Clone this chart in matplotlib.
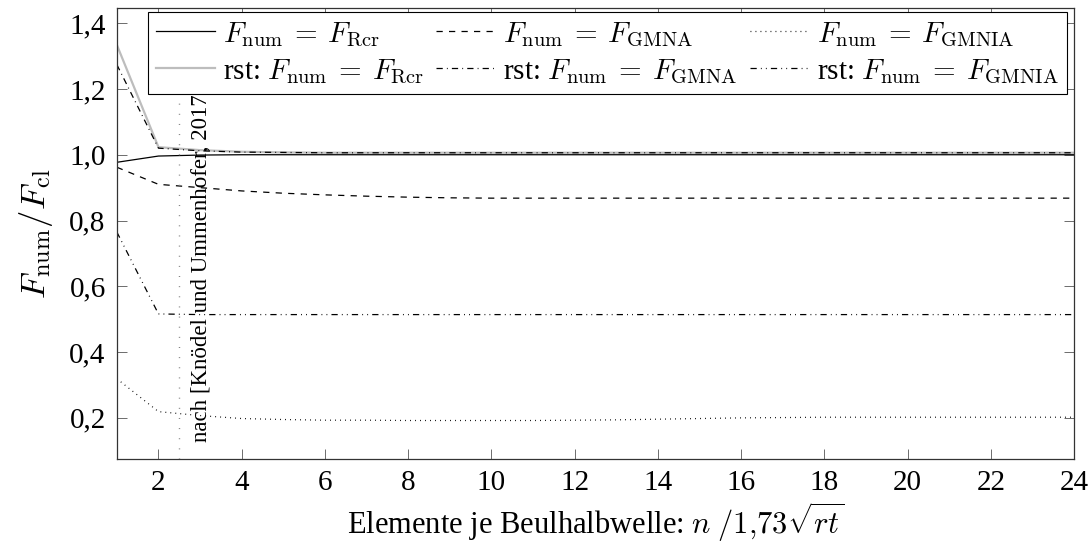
import matplotlib
matplotlib.use("Agg")
import matplotlib.pyplot as plt
from matplotlib.ticker import FuncFormatter

plt.rcParams["font.family"] = ["Liberation Serif", "DejaVu Serif"]
plt.rcParams["mathtext.fontset"] = "cm"
plt.rcParams["font.size"] = 20

# ---------------------------------------------------------------------------
# Data
# ---------------------------------------------------------------------------
n_elem = list(range(1, 25))

rcr = [0.977, 0.996, 0.999] + [1.0] * 21
gmna = [0.962, 0.910, 0.900, 0.890, 0.883, 0.878, 0.874, 0.871, 0.869] + [0.868] * 15
gmnia = [0.319, 0.219, 0.207, 0.198, 0.195, 0.193, 0.193, 0.192, 0.192, 0.192,
         0.192, 0.193, 0.194, 0.196, 0.198, 0.200, 0.201, 0.202, 0.202, 0.202,
         0.202, 0.202, 0.202, 0.202]
rst_rcr = [1.334, 1.023, 1.014, 1.009, 1.007, 1.006] + [1.006] * 18
rst_gmna = [1.274, 1.020, 1.012, 1.008, 1.007, 1.006] + [1.006] * 18
rst_gmnia = [0.765, 0.516] + [0.514] * 22

ref_x = 2.5
ref_text = "nach [Knödel und Ummenhofer, 2017]"

lab_rcr = r"$F_\mathrm{num}\:=\:F_\mathrm{Rcr}$"
lab_gmna = r"$F_\mathrm{num}\:=\:F_\mathrm{GMNA}$"
lab_gmnia = r"$F_\mathrm{num}\:=\:F_\mathrm{GMNIA}$"

# ---------------------------------------------------------------------------
# Figure
# ---------------------------------------------------------------------------
fig = plt.figure(figsize=(10.92, 5.54), dpi=100)
ax = fig.add_axes([0.107, 0.1715, 0.8765, 0.814])

lw = 0.9
h_rcr, = ax.plot(n_elem, rcr, color="black", lw=lw, label=lab_rcr)
h_gmna, = ax.plot(n_elem, gmna, color="black", lw=lw, dashes=(5, 5), label=lab_gmna)
h_gmnia, = ax.plot(n_elem, gmnia, color="black", lw=lw, dashes=(0.7, 3.3), label=lab_gmnia)
h_rrcr, = ax.plot(n_elem, rst_rcr, color="#bdbdbd", lw=1.6, label="rst: " + lab_rcr)
h_rgmna, = ax.plot(n_elem, rst_gmna, color="black", lw=lw,
                   dashes=(5, 3.3, 0.7, 3.3), label="rst: " + lab_gmna)
h_rgmnia, = ax.plot(n_elem, rst_gmnia, color="black", lw=lw,
                    dashes=(5, 3.3, 0.7, 3.3, 0.7, 3.3), label="rst: " + lab_gmnia)

ax.axvline(ref_x, color="gray", lw=1.0, dashes=(0.7, 6.6))
ax.text(3.03, 0.128, ref_text, rotation=90, ha="center", va="bottom", fontsize=16.5)

ax.set_xlim(1, 24)
ax.set_ylim(0.075, 1.446)
ax.set_xticks(range(2, 25, 2))
ax.set_yticks([0.2, 0.4, 0.6, 0.8, 1.0, 1.2, 1.4])
ax.yaxis.set_major_formatter(FuncFormatter(lambda v, p: f"{v:.1f}".replace(".", ",")))
ax.tick_params(direction="in", top=True, right=True, length=7, width=0.6,
               labelsize=21, color="#555555", pad=8)
for s in ax.spines.values():
    s.set_linewidth(0.9)
    s.set_color("#333333")

ax.set_xlabel(r"Elemente je Beulhalbwelle: $n\;/1{,}73\sqrt{rt}$", fontsize=22, labelpad=3)
ax.set_ylabel(r"$F_\mathrm{num}/F_\mathrm{cl}$", fontsize=25, labelpad=10)

handles = [h_rcr, h_rrcr, h_gmna, h_rgmna, h_gmnia, h_rgmnia]
leg = ax.legend(handles=handles, ncol=3, loc="upper right",
                bbox_to_anchor=(0.993, 0.992), fontsize=21, frameon=True,
                fancybox=False, framealpha=1, edgecolor="black",
                handlelength=2.0, handletextpad=0.3, columnspacing=0.4,
                borderpad=0.3, labelspacing=0.3, borderaxespad=0)
leg.get_frame().set_linewidth(0.8)

fig.savefig("out.png", dpi=100, facecolor="white")
